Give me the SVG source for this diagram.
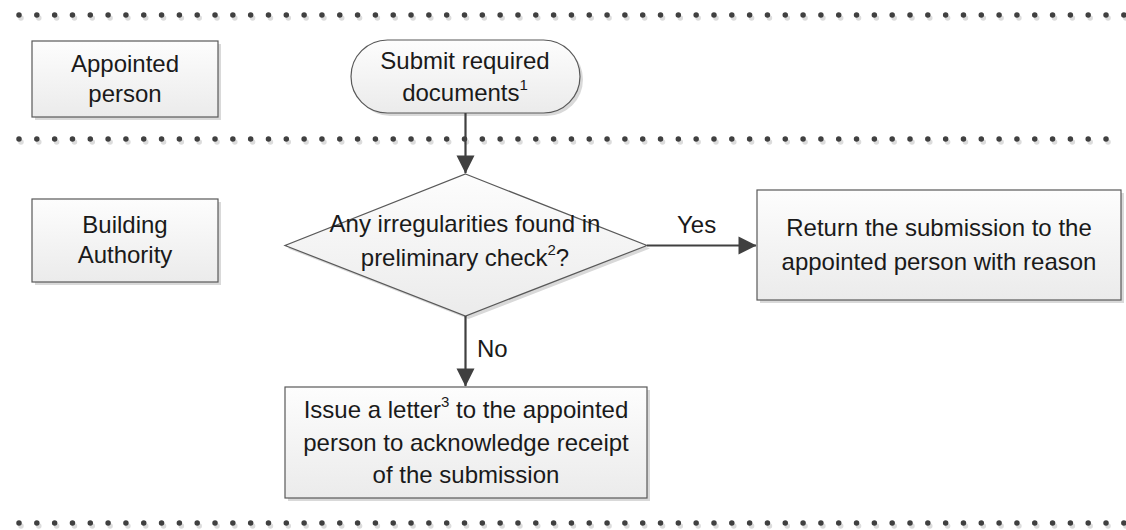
<svg xmlns="http://www.w3.org/2000/svg" width="1126" height="530" viewBox="0 0 1126 530">
<defs>
<linearGradient id="g" x1="0" y1="0" x2="0" y2="1">
<stop offset="0" stop-color="#fdfdfd"/>
<stop offset="1" stop-color="#ebebeb"/>
</linearGradient>
<marker id="ah" markerWidth="9" markerHeight="10" refX="8.5" refY="5" orient="auto" markerUnits="userSpaceOnUse" viewBox="0 0 9 10" overflow="visible">
<path d="M-9,-4 L9,5 L-9,14 Z" fill="#404040"/>
</marker>
</defs>
<style>
.shape{fill:url(#g);stroke:#595959;stroke-width:1.2}
.shadow{fill:#d9d9d9;stroke:none}
.t{font-family:"Liberation Sans",Arial,sans-serif;font-size:24px;fill:#1a1a1a;text-anchor:middle}
.lbl{font-family:"Liberation Sans",Arial,sans-serif;font-size:24px;fill:#1a1a1a}
.sup{font-size:15px}
.dots{stroke:#404040;stroke-width:5.5;stroke-linecap:round;stroke-dasharray:0 17.82;fill:none}
.dotsh{stroke:#dcdcdc;stroke-width:5.5;stroke-linecap:round;stroke-dasharray:0 17.82;fill:none}
.conn{stroke:#404040;stroke-width:2.2;fill:none}
</style>
<g id="lanes">
<line class="dotsh" x1="21" y1="18" x2="1127" y2="18"/>
<line class="dots" x1="19" y1="15" x2="1125" y2="15"/>
<line class="dotsh" x1="21" y1="142" x2="1109" y2="142"/>
<line class="dots" x1="19" y1="139" x2="1107" y2="139"/>
<line class="dotsh" x1="21" y1="526" x2="1127" y2="526"/>
<line class="dots" x1="19" y1="523" x2="1125" y2="523"/>
</g>
<g id="lane-appointed">
<rect class="shadow" x="35" y="44" width="186" height="76"/>
<rect class="shape" x="32" y="41" width="186" height="76"/>
<text class="t" x="125" y="72">Appointed</text>
<text class="t" x="125" y="102">person</text>
</g>
<g id="lane-authority">
<rect class="shadow" x="35" y="202" width="186" height="83"/>
<rect class="shape" x="32" y="199" width="186" height="83"/>
<text class="t" x="125" y="233">Building</text>
<text class="t" x="125" y="263">Authority</text>
</g>
<g id="submit">
<rect class="shadow" x="354" y="43" width="229" height="73" rx="36.5"/>
<rect class="shape" x="351" y="40" width="229" height="73" rx="36.5"/>
<text class="t" x="465" y="69">Submit required</text>
<text class="t" x="465" y="101">documents<tspan class="sup" dy="-11">1</tspan></text>
</g>
<g id="check">
<polygon class="shadow" points="468.5,177 650,248.5 468.5,319 288,248.5"/>
<polygon class="shape" points="465.5,174 647,245.5 465.5,316 285,245.5"/>
<text class="t" x="465" y="232">Any irregularities found in</text>
<text class="t" x="465" y="266">preliminary check<tspan class="sup" dy="-11">2</tspan><tspan dy="11">?</tspan></text>
</g>
<g id="return">
<rect class="shadow" x="760" y="193" width="364" height="110"/>
<rect class="shape" x="757" y="190" width="364" height="110"/>
<text class="t" x="939" y="236">Return the submission to the</text>
<text class="t" x="939" y="270">appointed person with reason</text>
</g>
<g id="issue">
<rect class="shadow" x="288" y="390" width="362" height="111"/>
<rect class="shape" x="285" y="387" width="362" height="111"/>
<text class="t" x="466" y="418">Issue a letter<tspan class="sup" dy="-11">3</tspan><tspan dy="11"> to the appointed</tspan></text>
<text class="t" x="466" y="451">person to acknowledge receipt</text>
<text class="t" x="466" y="483">of the submission</text>
</g>
<g id="connectors">
<line class="conn" x1="465.5" y1="113" x2="465.5" y2="173" marker-end="url(#ah)"/>
<line class="conn" x1="647" y1="245.5" x2="756" y2="245.5" marker-end="url(#ah)"/>
<line class="conn" x1="465.5" y1="316" x2="465.5" y2="386" marker-end="url(#ah)"/>
<text class="lbl" x="677" y="233">Yes</text>
<text class="lbl" x="477" y="357">No</text>
</g>
</svg>
